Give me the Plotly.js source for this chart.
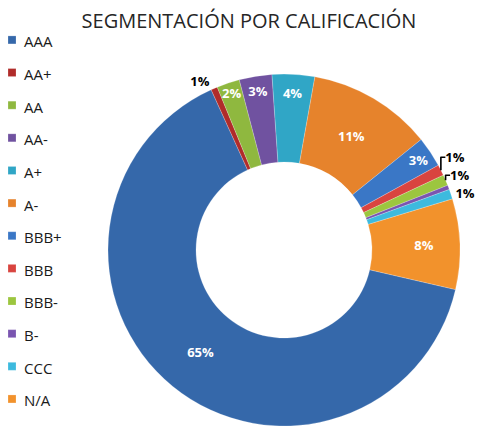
<!DOCTYPE html>
<html><head><meta charset="utf-8">
<script src="https://cdn.plot.ly/plotly-3.0.1.min.js"></script>
<style>html,body{margin:0;padding:0;background:#fff}</style>
</head><body><div id="chart" style="width:492px;height:433px"></div>
<script>
const categories = ['AAA','AA+','AA','AA-','A+','A-','BBB+','BBB','BBB-','B-','CCC','N/A'];
const shares = [64.6, 0.6, 2.1, 3.0, 3.9, 11.4, 2.8, 1.0, 1.0, 0.4, 0.9, 8.3];
const pctLabels = ['65%','1%','2%','3%','4%','11%','3%','1%','1%','','1%','8%'];
const colors = ['#3568aa','#b02c2a','#8fb83f','#7052a0','#30a6c6','#e6832c',
                '#3a77c6','#d9443f','#9cc63f','#7a55b0','#3dbade','#f2922c'];
const labelPositions = ['inside','outside','inside','inside','inside','inside',
                        'inside','outside','outside','none','outside','inside'];

const W = 492, H = 433;
const cx = 284, cy = 250, R = 176;

const trace = {
  type: 'pie',
  labels: categories.map(c => '<span style="font-size:15px">' + c + '</span><br> '),
  values: shares,
  text: pctLabels,
  texttemplate: '<b>%{text}</b>',
  textposition: labelPositions,
  insidetextorientation: 'horizontal',
  insidetextfont: {family: 'Open Sans', size: 13.5, color: '#ffffff'},
  outsidetextfont: {family: 'Open Sans', size: 13, color: '#000000'},
  hole: 0.5,
  sort: false,
  direction: 'clockwise',
  rotation: 103,
  marker: {colors: colors, line: {color: 'rgba(255,255,255,0.35)', width: 0.6}},
  domain: {x: [(cx - R) / W, (cx + R) / W], y: [(H - cy - R) / H, (H - cy + R) / H]},
  hoverinfo: 'none'
};

const layout = {
  width: W, height: H,
  margin: {l: 0, r: 0, t: 0, b: 0},
  paper_bgcolor: '#ffffff',
  title: {text: 'SEGMENTACIÓN POR CALIFICACIÓN', x: 0.506, xanchor: 'center',
          y: 1 - 21 / H, yanchor: 'middle', yref: 'container',
          font: {family: 'Open Sans', size: 20, color: '#262626'}},
  showlegend: true,
  legend: {x: 0, xanchor: 'left', y: 1 - 29 / H, yanchor: 'top',
           valign: 'top', font: {family: 'Open Sans', size: 11.4, color: '#1a1a1a'},
           bgcolor: 'rgba(0,0,0,0)'},
  uniformtext: {mode: 'show', minsize: 13}
};

Plotly.newPlot('chart', [trace], layout, {displayModeBar: false, staticPlot: true}).then(() => {
  document.querySelectorAll('.legendpoints path').forEach(p => p.setAttribute('d', 'M-4,1H-12V-7H-4Z'));
  document.querySelectorAll('text.legendtext').forEach(t => t.setAttribute('transform', 'translate(-16,0)'));
});
</script></body></html>
